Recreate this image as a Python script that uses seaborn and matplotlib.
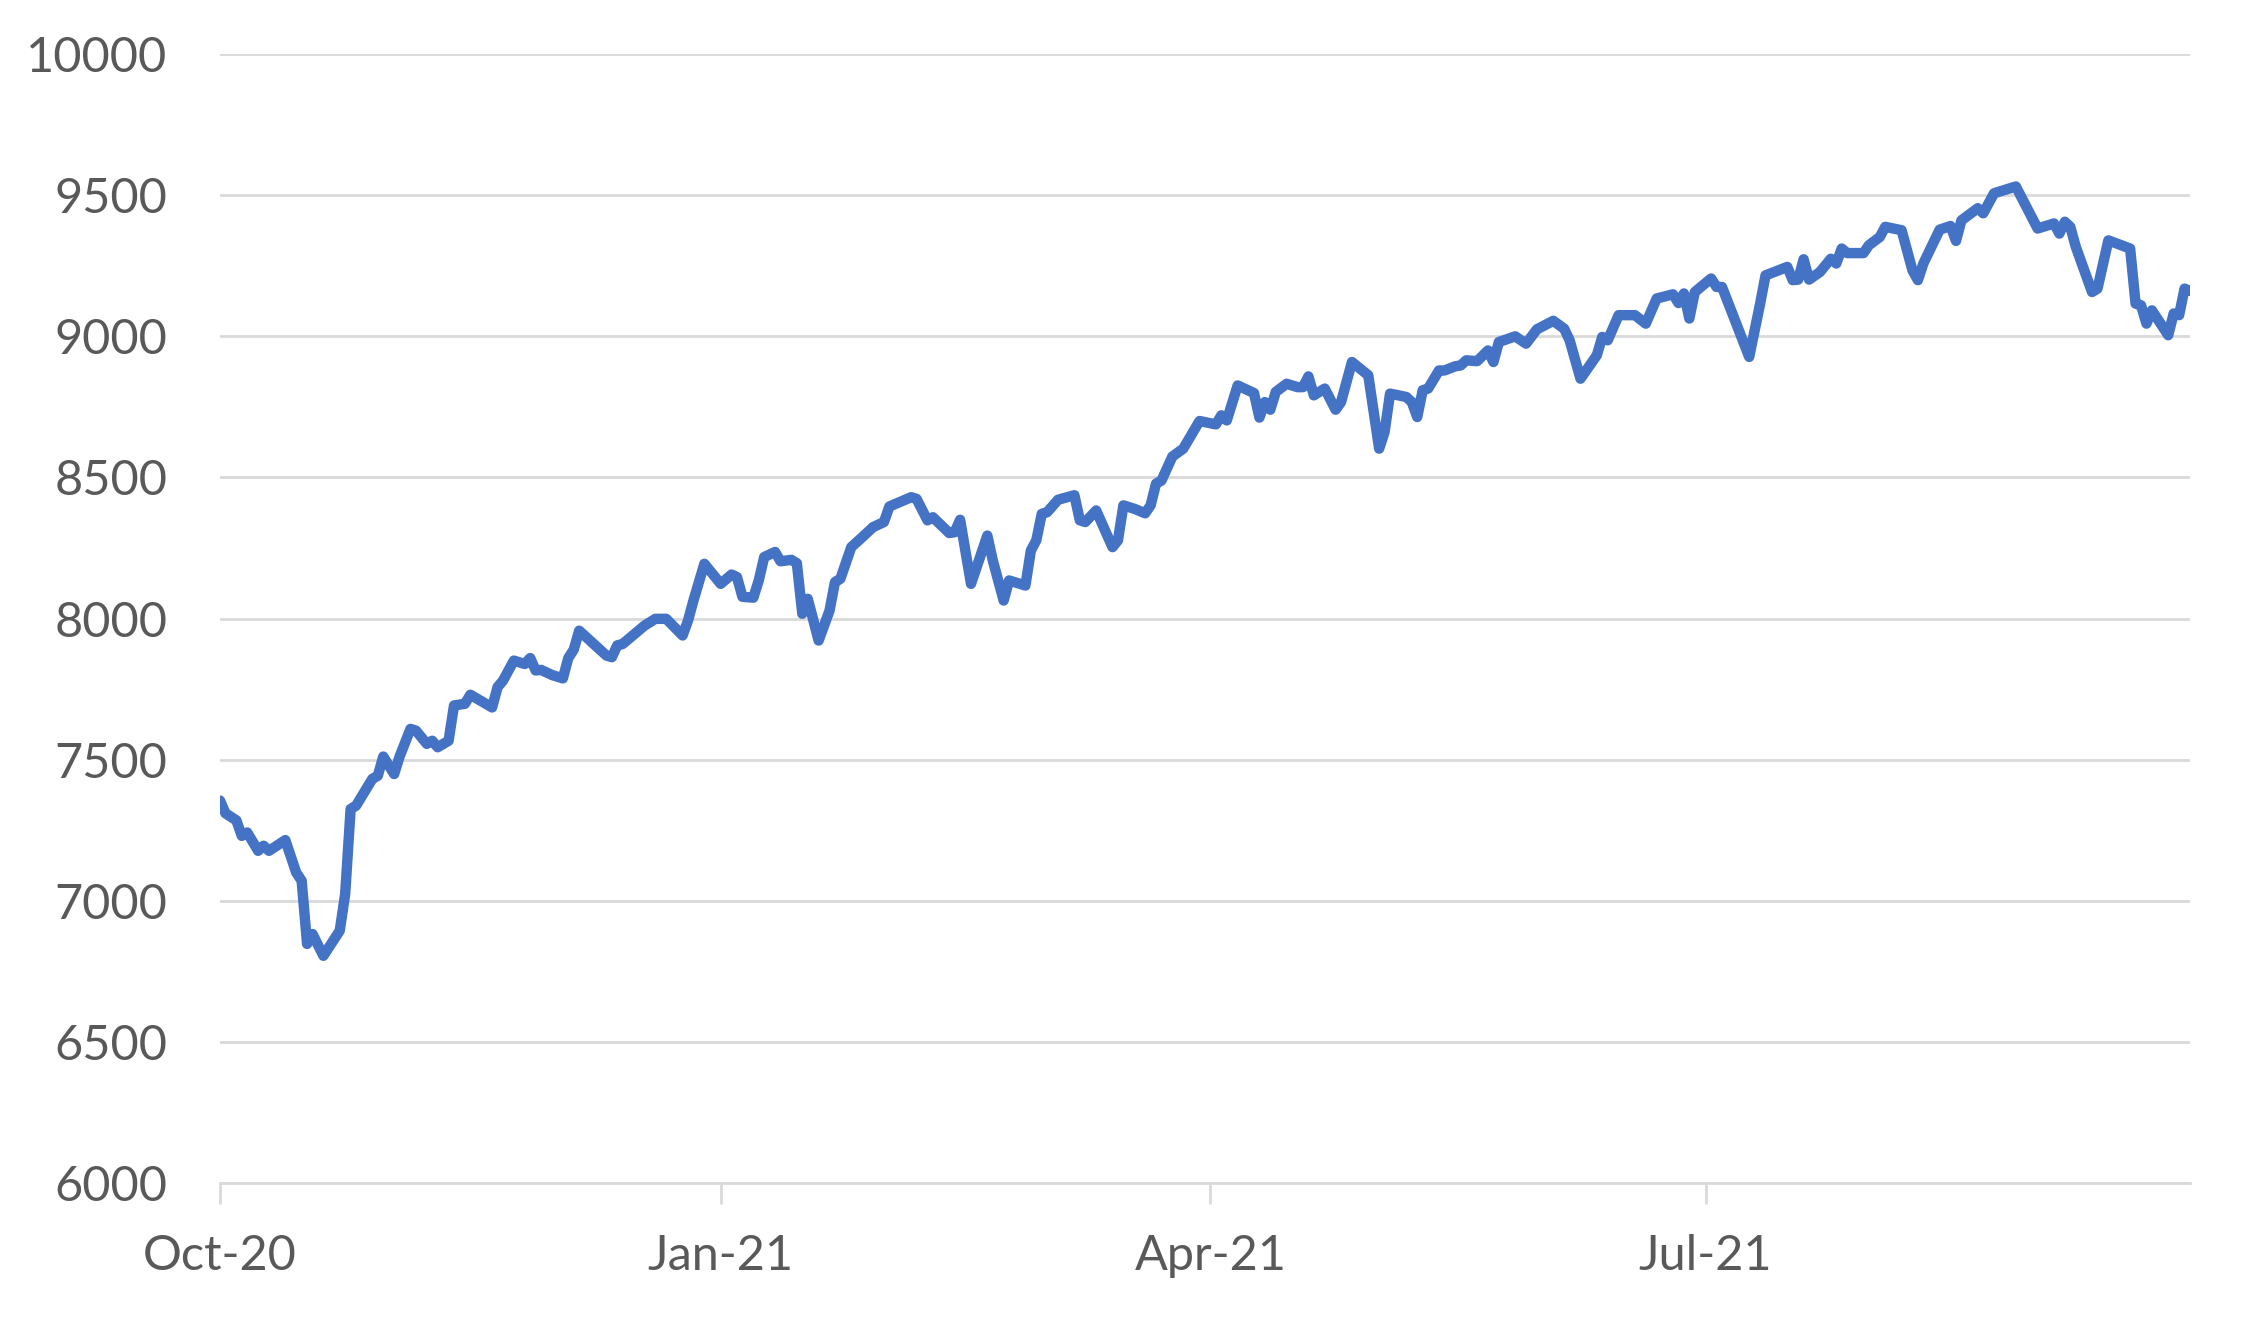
import pandas as pd
import numpy as np
import matplotlib
matplotlib.use("Agg")
import matplotlib.pyplot as plt
import matplotlib.dates as mdates
import seaborn as sns

# valores (vertices visiveis da linha)
dates = [
    "2020-10-01", "2020-10-02", "2020-10-04", "2020-10-05", "2020-10-06", "2020-10-08",
    "2020-10-09", "2020-10-10", "2020-10-13", "2020-10-15", "2020-10-16", "2020-10-17",
    "2020-10-18", "2020-10-20", "2020-10-23", "2020-10-24", "2020-10-25", "2020-10-26",
    "2020-10-29", "2020-10-30", "2020-10-31", "2020-11-02", "2020-11-03", "2020-11-05",
    "2020-11-06", "2020-11-08", "2020-11-09", "2020-11-10", "2020-11-12", "2020-11-13",
    "2020-11-15", "2020-11-16", "2020-11-20", "2020-11-21", "2020-11-22", "2020-11-24",
    "2020-11-26", "2020-11-27", "2020-11-28", "2020-11-29", "2020-12-01", "2020-12-03",
    "2020-12-04", "2020-12-05", "2020-12-06", "2020-12-11", "2020-12-12", "2020-12-13",
    "2020-12-14", "2020-12-18", "2020-12-20", "2020-12-22", "2020-12-25", "2020-12-26",
    "2020-12-27", "2020-12-29", "2021-01-01", "2021-01-03", "2021-01-04", "2021-01-05",
    "2021-01-07", "2021-01-08", "2021-01-09", "2021-01-11", "2021-01-12", "2021-01-14",
    "2021-01-15", "2021-01-16", "2021-01-17", "2021-01-19", "2021-01-20", "2021-01-21",
    "2021-01-22", "2021-01-23", "2021-01-25", "2021-01-27", "2021-01-29", "2021-01-31",
    "2021-02-01", "2021-02-05", "2021-02-06", "2021-02-08", "2021-02-09", "2021-02-12",
    "2021-02-13", "2021-02-14", "2021-02-16", "2021-02-19", "2021-02-20", "2021-02-22",
    "2021-02-23", "2021-02-26", "2021-02-27", "2021-02-28", "2021-03-01", "2021-03-02",
    "2021-03-04", "2021-03-07", "2021-03-08", "2021-03-09", "2021-03-11", "2021-03-14",
    "2021-03-15", "2021-03-16", "2021-03-18", "2021-03-20", "2021-03-21", "2021-03-22",
    "2021-03-23", "2021-03-25", "2021-03-27", "2021-03-29", "2021-03-30", "2021-04-02",
    "2021-04-03", "2021-04-04", "2021-04-06", "2021-04-09", "2021-04-10", "2021-04-11",
    "2021-04-12", "2021-04-13", "2021-04-15", "2021-04-17", "2021-04-18", "2021-04-19",
    "2021-04-20", "2021-04-22", "2021-04-24", "2021-04-25", "2021-04-27", "2021-04-30",
    "2021-05-02", "2021-05-03", "2021-05-04", "2021-05-07", "2021-05-08", "2021-05-09",
    "2021-05-10", "2021-05-11", "2021-05-13", "2021-05-14", "2021-05-16", "2021-05-17",
    "2021-05-18", "2021-05-20", "2021-05-22", "2021-05-23", "2021-05-24", "2021-05-27",
    "2021-05-29", "2021-05-31", "2021-06-03", "2021-06-05", "2021-06-06", "2021-06-08",
    "2021-06-11", "2021-06-12", "2021-06-13", "2021-06-15", "2021-06-18", "2021-06-20",
    "2021-06-22", "2021-06-25", "2021-06-26", "2021-06-27", "2021-06-28", "2021-06-29",
    "2021-07-02", "2021-07-03", "2021-07-04", "2021-07-09", "2021-07-11", "2021-07-12",
    "2021-07-16", "2021-07-17", "2021-07-18", "2021-07-19", "2021-07-20", "2021-07-22",
    "2021-07-24", "2021-07-25", "2021-07-26", "2021-07-27", "2021-07-30", "2021-07-31",
    "2021-08-02", "2021-08-03", "2021-08-06", "2021-08-08", "2021-08-09", "2021-08-10",
    "2021-08-13", "2021-08-15", "2021-08-16", "2021-08-17", "2021-08-20", "2021-08-21",
    "2021-08-23", "2021-08-27", "2021-08-31", "2021-09-03", "2021-09-04", "2021-09-05",
    "2021-09-06", "2021-09-07", "2021-09-10", "2021-09-11", "2021-09-13", "2021-09-17",
    "2021-09-18", "2021-09-19", "2021-09-20", "2021-09-21", "2021-09-24", "2021-09-25",
    "2021-09-26", "2021-09-27", "2021-09-28",
]

values = [
    7355, 7310, 7285, 7230, 7242, 7177,
    7195, 7177, 7215, 7100, 7071, 6847,
    6882, 6805, 6894, 7024, 7325, 7337,
    7432, 7443, 7511, 7449, 7511, 7609,
    7603, 7556, 7567, 7544, 7567, 7692,
    7698, 7730, 7685, 7757, 7780, 7851,
    7839, 7860, 7816, 7818, 7800, 7788,
    7860, 7890, 7957, 7869, 7863, 7905,
    7910, 7975, 7999, 7999, 7940, 7993,
    8064, 8194, 8123, 8156, 8147, 8077,
    8074, 8135, 8218, 8236, 8203, 8208,
    8196, 8017, 8070, 7922, 7975, 8028,
    8129, 8141, 8253, 8288, 8324, 8342,
    8397, 8430, 8424, 8348, 8359, 8303,
    8306, 8350, 8123, 8294, 8206, 8064,
    8135, 8117, 8241, 8277, 8371, 8377,
    8421, 8437, 8348, 8342, 8383, 8253,
    8277, 8401, 8389, 8373, 8401, 8478,
    8489, 8574, 8602, 8667, 8700, 8688,
    8720, 8702, 8826, 8799, 8712, 8767,
    8740, 8803, 8832, 8820, 8820, 8858,
    8791, 8815, 8740, 8767, 8909, 8862,
    8602, 8661, 8797, 8785, 8767, 8714,
    8809, 8815, 8879, 8879, 8894, 8897,
    8915, 8912, 8950, 8909, 8980, 9000,
    8974, 9025, 9055, 9027, 8986, 8850,
    8933, 8998, 8986, 9075, 9075, 9045,
    9134, 9149, 9118, 9152, 9063, 9157,
    9205, 9175, 9175, 8927, 9115, 9216,
    9246, 9199, 9201, 9273, 9201, 9228,
    9275, 9258, 9311, 9295, 9295, 9323,
    9352, 9388, 9376, 9234, 9199, 9258,
    9378, 9391, 9338, 9411, 9454, 9436,
    9507, 9531, 9382, 9400, 9364, 9406,
    9388, 9318, 9157, 9169, 9340, 9311,
    9116, 9110, 9045, 9092, 9004, 9081,
    9075, 9169, 9161,
]

tick_dates = ["2020-10-01", "2021-01-01", "2021-04-01", "2021-07-01"]
y_ticks = [6000, 6500, 7000, 7500, 8000, 8500, 9000, 9500, 10000]

df = pd.DataFrame({"data": pd.to_datetime(dates), "valor": values})

sns.set_style("white")
plt.rcParams['font.family'] = ['Lato', 'DejaVu Sans']

cor_texto = "#595959"
cor_grade = "#D9D9D9"

fig = plt.figure(figsize=(22.45, 13.2), dpi=100)
ax = fig.add_axes([0.098, 0.1038, 0.8775, 0.8552])

sns.lineplot(data=df, x="data", y="valor", ax=ax, color="#4472C4", linewidth=7.5,
             solid_joinstyle="round", solid_capstyle="round")

ax.set_xlim(df["data"].min(), df["data"].max())
ax.set_ylim(6000, 10000)
ax.set_yticks(y_ticks)
ax.set_xticks(pd.to_datetime(tick_dates))
ax.xaxis.set_major_formatter(mdates.DateFormatter("%b-%y"))

ax.grid(axis="y", color=cor_grade, linewidth=2)
ax.set_axisbelow(True)
for s in ["top", "right", "left"]:
    ax.spines[s].set_visible(False)
ax.spines["bottom"].set_color(cor_grade)
ax.spines["bottom"].set_linewidth(2)

ax.tick_params(axis="y", length=0, pad=38, labelsize=35, labelcolor=cor_texto)
ax.tick_params(axis="x", length=15, width=2, color=cor_grade, direction="out",
               pad=22, labelsize=35, labelcolor=cor_texto, bottom=True)
ax.set_xlabel("")
ax.set_ylabel("")

fig.savefig("out.png", dpi=100)
